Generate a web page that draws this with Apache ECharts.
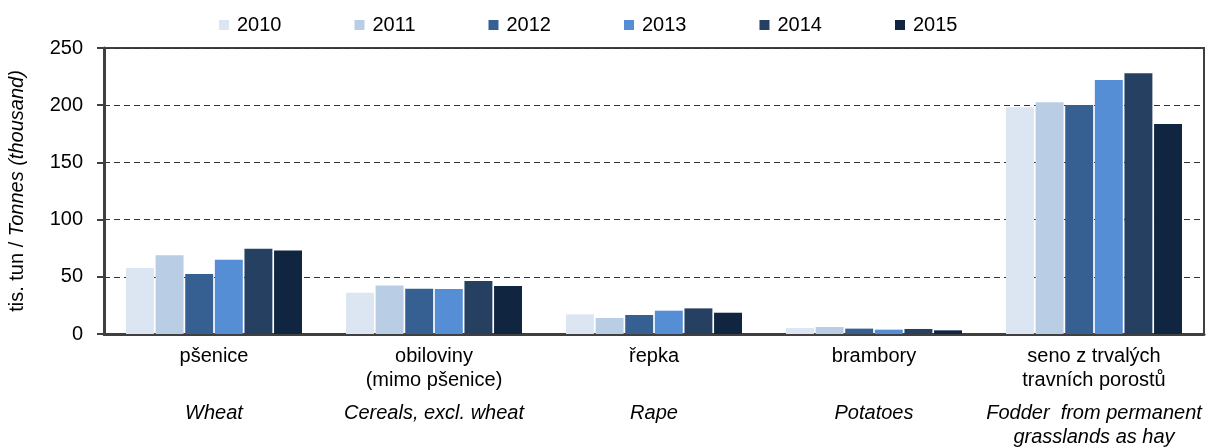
<!DOCTYPE html>
<html>
<head>
<meta charset="utf-8">
<script src="https://cdn.jsdelivr.net/npm/echarts@6/dist/echarts.min.js"></script>
<style>
  html, body { margin: 0; padding: 0; background: #fff; }
  #chart { width: 1220px; height: 448px; }
</style>
</head>
<body>
<div id="chart"></div>
<script>
// categories (Czech / English)
var catCz = [['pšenice', ' '], ['obiloviny', '(mimo pšenice)'], ['řepka', ' '], ['brambory', ' '], ['seno z trvalých', 'travních porostů']];
var catEn = [['Wheat', ' '], ['Cereals, excl. wheat', ' '], ['Rape', ' '], ['Potatoes', ' '], ['Fodder  from permanent', 'grasslands as hay']];

var years = ['2010', '2011', '2012', '2013', '2014', '2015'];
var colors = ['#dce6f2', '#b9cde5', '#376092', '#558ed5', '#254061', '#10253f'];

// values per year, in category order
var v2010 = [57.7, 36.1, 17.2, 5.2, 198.2];
var v2011 = [68.8, 42.5, 14.0, 6.1, 202.5];
var v2012 = [52.4, 39.6, 16.6, 4.7, 200.2];
var v2013 = [65.0, 39.3, 20.4, 3.8, 222.0];
var v2014 = [74.6, 46.3, 22.4, 4.4, 227.9];
var v2015 = [73.0, 42.0, 18.6, 3.2, 183.6];
var values = [v2010, v2011, v2012, v2013, v2014, v2015];

var yTicks = { min: 0, max: 250, interval: 50 };

var chart = echarts.init(document.getElementById('chart'));

var categories = catCz.map(function (c, i) { return String(i); });

var series = years.map(function (y, i) {
    return {
        name: y,
        type: 'bar',
        data: values[i],
        barGap: '6%',
        barCategoryGap: '20%',
        itemStyle: { color: colors[i] }
    };
});

var axisColor = '#404040';
var font = 'Liberation Sans, Arial, sans-serif';

var option = {
    animation: false,
    textStyle: { fontFamily: font },
    color: colors,
    legend: {
        top: 10,
        left: 214,
        itemGap: 73,
        itemWidth: 10,
        itemHeight: 10,
        icon: 'rect',
        textStyle: { fontSize: 20, color: '#000', fontFamily: font, padding: [0, 0, 0, 3] },
        data: years
    },
    grid: {
        left: 104,
        right: 16,
        top: 48,
        bottom: 114,
        containLabel: false,
        outerBoundsMode: 'none',
        show: true,
        borderColor: axisColor,
        borderWidth: 2
    },
    xAxis: {
        type: 'category',
        data: categories,
        axisLine: { lineStyle: { color: axisColor, width: 3 } },
        axisTick: { length: 5, lineStyle: { color: axisColor, width: 2 } },
        axisLabel: {
            margin: 10,
            interval: 0,
            formatter: function (val) {
                var i = +val;
                return '{cz|' + catCz[i][0] + '}\n{cz|' + catCz[i][1] + '}\n{sp| }\n{en|' + catEn[i][0] + '}\n{en|' + catEn[i][1] + '}';
            },
            rich: {
                cz: { fontSize: 20, lineHeight: 24, color: '#000', fontFamily: font },
                en: { fontSize: 20, lineHeight: 24, color: '#000', fontStyle: 'italic', fontFamily: font },
                sp: { fontSize: 1, lineHeight: 9 }
            }
        }
    },
    yAxis: {
        type: 'value',
        min: yTicks.min,
        max: yTicks.max,
        interval: yTicks.interval,
        name: '{n|tis. tun / }{i|Tonnes (thousand)}',
        nameLocation: 'middle',
        nameGap: 77,
        nameTextStyle: {
            rich: {
                n: { fontSize: 20, color: '#000', fontFamily: font },
                i: { fontSize: 20, color: '#000', fontStyle: 'italic', fontFamily: font }
            }
        },
        axisLine: { show: true, lineStyle: { color: axisColor, width: 3 } },
        axisTick: { show: true, length: 7, lineStyle: { color: axisColor, width: 2 } },
        axisLabel: { fontSize: 20, color: '#000', margin: 21 },
        splitLine: { show: true, lineStyle: { color: '#333', type: [6, 4], width: 1 } }
    },
    series: series
};

chart.setOption(option);
</script>
</body>
</html>
